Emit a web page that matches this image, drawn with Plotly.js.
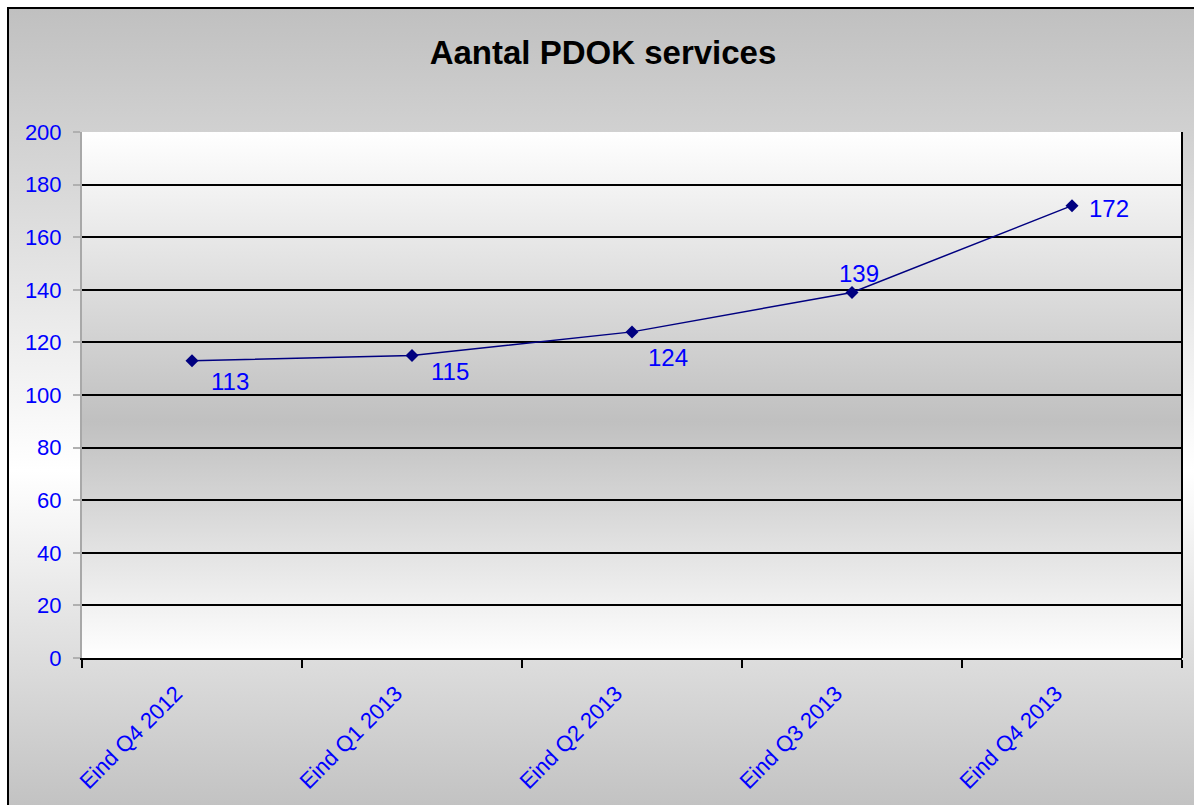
<!DOCTYPE html>
<html>
<head>
<meta charset="utf-8">
<script src="https://cdn.plot.ly/plotly-3.0.1.min.js"></script>
<style>
  html, body { margin: 0; padding: 0; background: #ffffff; overflow: hidden; }
  #wrap { position: relative; width: 1194px; height: 805px; }
  #frame {
    position: absolute; left: 7px; top: 7px; width: 1200px; height: 810px;
    border-left: 2px solid #000; border-top: 2px solid #000;
    background: linear-gradient(to bottom, #c0c0c0 0%, #ffffff 57%, #c0c0c0 100%);
  }
  #chart { position: absolute; left: 0; top: 0; width: 1194px; height: 805px; }
</style>
</head>
<body>
<div id="wrap">
  <div id="frame"></div>
  <div id="chart"></div>
</div>
<script>
const categories = ["Eind Q4 2012", "Eind Q1 2013", "Eind Q2 2013", "Eind Q3 2013", "Eind Q4 2013"];
const services = [113, 115, 124, 139, 172];
const yTicks = [0, 20, 40, 60, 80, 100, 120, 140, 160, 180, 200];

// label placement (style only)
const labelStyle = [
  { xanchor: 'left', yanchor: 'top', xshift: 17, yshift: -5 },
  { xanchor: 'left', yanchor: 'top', xshift: 17, yshift: 0 },
  { xanchor: 'left', yanchor: 'top', xshift: 14, yshift: -10 },
  { xanchor: 'center', yanchor: 'bottom', xshift: 7, yshift: 3 },
  { xanchor: 'left', yanchor: 'middle', xshift: 15, yshift: -3 }
];

const FONT = 'Liberation Sans, Arial, sans-serif';

const plotGrad = '<svg xmlns="http://www.w3.org/2000/svg" width="10" height="100" preserveAspectRatio="none">' +
  '<defs><linearGradient id="g" x1="0" y1="0" x2="0" y2="1">' +
  '<stop offset="0" stop-color="#ffffff"/><stop offset="0.55" stop-color="#c0c0c0"/><stop offset="1" stop-color="#ffffff"/>' +
  '</linearGradient></defs><rect width="10" height="100" fill="url(#g)"/></svg>';

const trace = {
  x: categories,
  y: services,
  type: 'scatter',
  mode: 'lines+markers',
  line: { color: '#000080', width: 1.5 },
  marker: { symbol: 'diamond', size: 10, color: '#000080' },
  cliponaxis: false,
  hoverinfo: 'x+y'
};

const annotations = categories.map((c, i) => Object.assign({
  x: c, y: services[i], xref: 'x', yref: 'y',
  text: String(services[i]), showarrow: false,
  font: { family: FONT, size: 24, color: '#0000ff' }
}, labelStyle[i]));

const layout = {
  width: 1194, height: 805,
  margin: { l: 82, r: 12, t: 132, b: 147 },
  paper_bgcolor: 'rgba(0,0,0,0)',
  plot_bgcolor: 'rgba(0,0,0,0)',
  showlegend: false,
  font: { family: FONT, color: '#0000ff' },
  title: {
    text: '<b>Aantal PDOK services</b>',
    font: { family: FONT, size: 33, color: '#000000' },
    x: 603 / 1194, xanchor: 'center', xref: 'container',
    y: 1 - 52 / 805, yanchor: 'middle', yref: 'container'
  },
  xaxis: {
    type: 'category',
    range: [-0.5, 4.5],
    tickson: 'boundaries',
    ticks: 'outside', ticklen: 8, tickwidth: 2, tickcolor: '#000000',
    showline: true, linecolor: '#000000', linewidth: 2,
    showgrid: false, zeroline: false,
    tickangle: -45,
    ticklabelshift: -16,
    ticklabelstandoff: 12,
    tickfont: { family: FONT, size: 22, color: '#0000ff' },
    fixedrange: true
  },
  yaxis: {
    range: [0, 200],
    tickvals: yTicks,
    ticktext: yTicks.map(String),
    ticks: 'outside', ticklen: 7, tickwidth: 2, tickcolor: '#b0b0b0',
    ticklabelstandoff: 7,
    showline: true, linecolor: '#a8a8a8', linewidth: 2,
    showgrid: true, gridcolor: '#000000', gridwidth: 2,
    zeroline: false,
    tickfont: { family: FONT, size: 22, color: '#0000ff' },
    fixedrange: true
  },
  annotations: annotations,
  images: [{
    source: 'data:image/svg+xml;charset=utf-8,' + encodeURIComponent(plotGrad),
    xref: 'paper', yref: 'paper', x: 0, y: 1, sizex: 1, sizey: 1,
    sizing: 'stretch', xanchor: 'left', yanchor: 'top', layer: 'below'
  }],
  shapes: [{
    type: 'line', xref: 'paper', yref: 'paper', x0: 1, x1: 1, y0: 0, y1: 1,
    line: { color: '#000000', width: 2 }
  }]
};

Plotly.newPlot('chart', [trace], layout, { displayModeBar: false, staticPlot: true });
</script>
</body>
</html>
